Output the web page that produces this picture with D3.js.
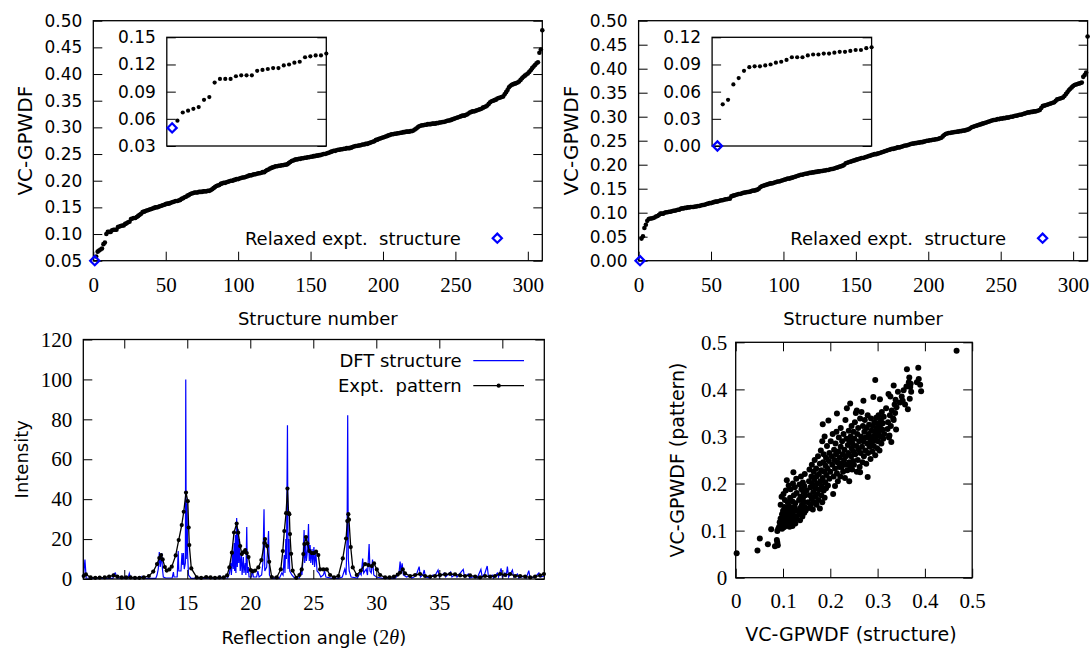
<!DOCTYPE html>
<html>
<head>
<meta charset="utf-8">
<script src="https://cdn.jsdelivr.net/npm/d3@7"></script>
<style>
  body { margin: 0; background: #fff; }
</style>
</head>
<body>
<svg id="fig" width="1091" height="648"></svg>
<script>
// ---- dades ----
// estructura 1 = estructura experimental relaxada (diamant blau)
const relaxedPattern = 0.05;
const relaxedStructure = 0.0;

// VC-GPWDF (patró), ordenat, estructures 2..310
const patternSorted = [
  0.058, 0.067, 0.069, 0.071, 0.073, 0.081, 0.084, 0.100, 0.104,
  0.104, 0.104, 0.107, 0.108, 0.108, 0.108, 0.113, 0.114, 0.115, 0.116,
  0.116, 0.119, 0.120, 0.122, 0.123, 0.128, 0.129, 0.130, 0.130, 0.132,
  0.134, 0.136, 0.138, 0.141, 0.142, 0.143, 0.144, 0.145, 0.146, 0.147,
  0.148, 0.149, 0.150, 0.150, 0.151, 0.152, 0.153, 0.154, 0.155, 0.156,
  0.157, 0.157, 0.158, 0.159, 0.160, 0.161, 0.162, 0.162, 0.163, 0.164,
  0.166, 0.167, 0.169, 0.170, 0.172, 0.173, 0.175, 0.176, 0.177, 0.178,
  0.178, 0.178, 0.179, 0.179, 0.179, 0.180, 0.180, 0.180, 0.181, 0.181,
  0.182, 0.184, 0.186, 0.188, 0.190, 0.191, 0.192, 0.194, 0.195, 0.196,
  0.196, 0.197, 0.198, 0.199, 0.200, 0.200, 0.201, 0.202, 0.203, 0.203,
  0.204, 0.205, 0.206, 0.206, 0.207, 0.208, 0.209, 0.210, 0.210, 0.211,
  0.212, 0.212, 0.213, 0.214, 0.214, 0.215, 0.216, 0.216, 0.218, 0.220,
  0.221, 0.223, 0.224, 0.225, 0.226, 0.227, 0.227, 0.228, 0.228, 0.229,
  0.229, 0.230, 0.230, 0.231, 0.233, 0.235, 0.237, 0.238, 0.239, 0.240,
  0.240, 0.241, 0.241, 0.242, 0.242, 0.243, 0.243, 0.244, 0.244, 0.245,
  0.245, 0.246, 0.246, 0.247, 0.247, 0.248, 0.248, 0.249, 0.250, 0.250,
  0.251, 0.252, 0.253, 0.254, 0.255, 0.256, 0.256, 0.257, 0.258, 0.258,
  0.259, 0.259, 0.260, 0.260, 0.261, 0.261, 0.261, 0.262, 0.263, 0.264,
  0.265, 0.265, 0.266, 0.266, 0.267, 0.268, 0.268, 0.269, 0.269, 0.270,
  0.271, 0.272, 0.273, 0.274, 0.276, 0.277, 0.278, 0.279, 0.280, 0.281,
  0.282, 0.283, 0.284, 0.285, 0.286, 0.287, 0.287, 0.288, 0.288, 0.289,
  0.289, 0.290, 0.290, 0.291, 0.291, 0.292, 0.292, 0.292, 0.293, 0.293,
  0.294, 0.296, 0.298, 0.300, 0.302, 0.303, 0.304, 0.304, 0.305, 0.305,
  0.306, 0.306, 0.306, 0.307, 0.307, 0.307, 0.308, 0.308, 0.309, 0.309,
  0.310, 0.310, 0.311, 0.312, 0.313, 0.313, 0.314, 0.315, 0.316, 0.317,
  0.318, 0.319, 0.320, 0.321, 0.322, 0.322, 0.323, 0.324, 0.326, 0.328,
  0.329, 0.330, 0.330, 0.331, 0.332, 0.333, 0.334, 0.335, 0.337, 0.338,
  0.339, 0.341, 0.344, 0.347, 0.349, 0.350, 0.351, 0.352, 0.354, 0.355,
  0.356, 0.357, 0.358, 0.362, 0.366, 0.370, 0.375, 0.378, 0.380, 0.381,
  0.382, 0.383, 0.384, 0.386, 0.389, 0.392, 0.395, 0.397, 0.399, 0.401,
  0.404, 0.407, 0.411, 0.414, 0.417, 0.420, 0.422, 0.440, 0.446, 0.482
];

// VC-GPWDF (estructura), ordenat, estructures 2..310
const structureSorted = [
  0.046, 0.051, 0.068, 0.075, 0.083, 0.087, 0.088, 0.088, 0.089,
  0.090, 0.092, 0.093, 0.095, 0.098, 0.098, 0.098, 0.100, 0.101, 0.101,
  0.102, 0.102, 0.103, 0.104, 0.104, 0.105, 0.106, 0.106, 0.108, 0.109,
  0.109, 0.110, 0.110, 0.111, 0.111, 0.112, 0.112, 0.112, 0.113, 0.113,
  0.114, 0.114, 0.115, 0.116, 0.116, 0.117, 0.118, 0.119, 0.120, 0.120,
  0.121, 0.122, 0.123, 0.123, 0.124, 0.125, 0.126, 0.126, 0.127, 0.128,
  0.128, 0.129, 0.129, 0.134, 0.135, 0.136, 0.137, 0.138, 0.139, 0.139,
  0.140, 0.141, 0.142, 0.142, 0.143, 0.143, 0.144, 0.145, 0.146, 0.146,
  0.147, 0.148, 0.150, 0.153, 0.155, 0.156, 0.157, 0.158, 0.159, 0.160,
  0.161, 0.161, 0.162, 0.163, 0.164, 0.165, 0.165, 0.166, 0.167, 0.168,
  0.169, 0.170, 0.171, 0.171, 0.172, 0.173, 0.174, 0.175, 0.176, 0.177,
  0.178, 0.179, 0.179, 0.180, 0.181, 0.181, 0.182, 0.183, 0.183, 0.184,
  0.184, 0.185, 0.185, 0.186, 0.186, 0.187, 0.187, 0.188, 0.188, 0.189,
  0.189, 0.190, 0.191, 0.191, 0.192, 0.193, 0.194, 0.195, 0.196, 0.197,
  0.198, 0.200, 0.203, 0.204, 0.205, 0.206, 0.207, 0.208, 0.209, 0.210,
  0.211, 0.212, 0.213, 0.214, 0.214, 0.215, 0.216, 0.217, 0.218, 0.219,
  0.220, 0.221, 0.222, 0.222, 0.223, 0.224, 0.225, 0.226, 0.227, 0.228,
  0.229, 0.230, 0.231, 0.232, 0.233, 0.233, 0.234, 0.235, 0.236, 0.236,
  0.237, 0.238, 0.239, 0.240, 0.240, 0.241, 0.242, 0.243, 0.244, 0.244,
  0.245, 0.245, 0.246, 0.246, 0.247, 0.247, 0.248, 0.249, 0.250, 0.250,
  0.251, 0.251, 0.252, 0.252, 0.253, 0.253, 0.254, 0.255, 0.256, 0.259,
  0.262, 0.264, 0.265, 0.266, 0.266, 0.267, 0.267, 0.268, 0.268, 0.269,
  0.269, 0.270, 0.270, 0.271, 0.271, 0.272, 0.273, 0.274, 0.276, 0.278,
  0.279, 0.280, 0.281, 0.282, 0.283, 0.284, 0.285, 0.286, 0.287, 0.288,
  0.289, 0.290, 0.291, 0.292, 0.293, 0.293, 0.294, 0.295, 0.295, 0.296,
  0.296, 0.297, 0.297, 0.298, 0.298, 0.299, 0.300, 0.300, 0.301, 0.302,
  0.302, 0.303, 0.304, 0.304, 0.305, 0.306, 0.307, 0.308, 0.309, 0.309,
  0.310, 0.310, 0.311, 0.311, 0.312, 0.313, 0.314, 0.318, 0.322, 0.323,
  0.324, 0.325, 0.326, 0.327, 0.328, 0.329, 0.330, 0.333, 0.336, 0.337,
  0.338, 0.339, 0.340, 0.343, 0.347, 0.351, 0.355, 0.358, 0.361, 0.364,
  0.366, 0.367, 0.368, 0.369, 0.370, 0.371, 0.383, 0.387, 0.392, 0.467
];

// dispersió: [estructura, patró]
const scatterPts = [
  [0.002,0.052],[0.046,0.058],[0.051,0.083],[0.068,0.071],[0.075,0.103],[0.083,0.067],[0.087,0.080],[0.089,0.069],[0.088,0.099],[0.088,0.075],[0.090,0.104],
  [0.092,0.108],[0.093,0.118],[0.095,0.126],[0.095,0.155],[0.097,0.172],[0.098,0.104],[0.098,0.135],[0.100,0.112],[0.100,0.142],[0.101,0.122],
  [0.101,0.178],[0.102,0.107],[0.102,0.130],[0.103,0.150],[0.104,0.115],[0.104,0.165],[0.105,0.124],[0.105,0.138],[0.106,0.110],[0.106,0.185],
  [0.108,0.207],[0.108,0.128],[0.109,0.118],[0.109,0.146],[0.110,0.160],[0.111,0.133],[0.111,0.113],[0.112,0.196],[0.112,0.122],[0.113,0.152],
  [0.114,0.140],[0.114,0.108],[0.115,0.170],[0.116,0.126],[0.116,0.188],[0.117,0.117],[0.118,0.145],[0.119,0.132],[0.120,0.162],[0.120,0.110],
  [0.121,0.200],[0.121,0.138],[0.122,0.224],[0.123,0.120],[0.123,0.175],[0.124,0.150],[0.125,0.130],[0.125,0.192],[0.126,0.115],[0.126,0.158],
  [0.128,0.142],[0.128,0.210],[0.129,0.125],[0.129,0.180],[0.134,0.165],[0.134,0.135],[0.135,0.198],[0.136,0.148],[0.136,0.122],[0.137,0.172],
  [0.138,0.215],[0.139,0.140],[0.139,0.188],[0.140,0.155],[0.141,0.130],[0.142,0.202],[0.142,0.168],[0.143,0.145],[0.143,0.182],[0.144,0.160],
  [0.145,0.138],[0.145,0.195],[0.146,0.220],[0.146,0.150],[0.147,0.175],[0.148,0.143],
  [0.150,0.185],[0.153,0.160],[0.155,0.205],[0.155,0.148],[0.156,0.230],[0.157,0.175],[0.158,0.192],[0.159,0.155],[0.160,0.215],[0.161,0.168],
  [0.161,0.240],[0.162,0.198],[0.163,0.145],[0.164,0.182],[0.165,0.225],[0.165,0.160],[0.166,0.208],[0.167,0.250],[0.168,0.172],[0.169,0.190],
  [0.170,0.232],[0.171,0.155],[0.171,0.215],[0.172,0.200],[0.173,0.178],[0.174,0.258],[0.175,0.165],[0.176,0.220],[0.177,0.188],[0.178,0.242],
  [0.178,0.147],[0.179,0.205],[0.180,0.270],[0.181,0.175],[0.181,0.228],[0.182,0.195],[0.183,0.290],[0.183,0.160],[0.184,0.326],[0.184,0.212],
  [0.185,0.245],[0.186,0.185],[0.186,0.262],[0.187,0.225],[0.188,0.170],[0.188,0.300],[0.189,0.203],[0.190,0.238],[0.191,0.255],[0.191,0.190],
  [0.192,0.218],[0.193,0.280],[0.194,0.232],[0.195,0.196],[0.196,0.334],[0.197,0.248],[0.198,0.265],[0.198,0.210],
  [0.200,0.225],[0.201,0.290],[0.203,0.258],[0.204,0.240],[0.205,0.305],[0.206,0.178],[0.207,0.215],[0.208,0.272],[0.209,0.250],[0.210,0.232],
  [0.210,0.195],[0.211,0.285],[0.212,0.262],[0.213,0.310],[0.214,0.349],[0.214,0.222],[0.215,0.245],[0.216,0.205],[0.217,0.268],[0.218,0.298],
  [0.219,0.235],[0.220,0.255],[0.221,0.215],[0.222,0.318],[0.222,0.278],[0.223,0.242],[0.224,0.235],[0.225,0.290],[0.226,0.262],[0.227,0.225],
  [0.228,0.305],[0.229,0.250],[0.230,0.272],[0.231,0.212],[0.232,0.335],[0.233,0.258],[0.233,0.240],[0.234,0.295],[0.235,0.360],[0.236,0.228],
  [0.237,0.282],[0.238,0.265],[0.239,0.312],[0.240,0.245],[0.240,0.205],[0.241,0.290],[0.242,0.370],[0.242,0.235],[0.243,0.300],[0.244,0.258],
  [0.245,0.275],[0.245,0.322],[0.246,0.230],[0.247,0.285],[0.248,0.248],[0.249,0.310],[0.249,0.268],
  [0.250,0.240],[0.251,0.295],[0.252,0.330],[0.253,0.262],[0.254,0.350],[0.255,0.280],[0.256,0.355],[0.256,0.225],[0.257,0.305],[0.258,0.250],
  [0.259,0.318],[0.260,0.272],[0.261,0.290],[0.262,0.235],[0.263,0.224],[0.263,0.338],[0.264,0.265],[0.265,0.300],[0.266,0.352],[0.267,0.278],
  [0.268,0.245],[0.269,0.322],[0.270,0.376],[0.270,0.290],[0.271,0.258],[0.272,0.310],[0.273,0.335],[0.274,0.270],[0.275,0.298],[0.276,0.242],
  [0.277,0.318],[0.278,0.285],[0.279,0.214],[0.279,0.345],[0.280,0.265],[0.281,0.305],[0.282,0.325],[0.283,0.278],[0.284,0.295],[0.285,0.252],
  [0.286,0.338],[0.287,0.312],[0.288,0.288],[0.289,0.268],[0.290,0.322],[0.291,0.384],[0.291,0.300],[0.292,0.280],[0.293,0.330],[0.294,0.310],
  [0.295,0.420],[0.295,0.260],[0.296,0.292],[0.297,0.340],[0.298,0.318],[0.299,0.275],[0.299,0.302],
  [0.300,0.328],[0.301,0.290],[0.302,0.345],[0.303,0.310],[0.304,0.270],[0.305,0.379],[0.305,0.320],[0.306,0.300],[0.307,0.335],[0.308,0.285],
  [0.309,0.352],[0.310,0.315],[0.311,0.328],[0.312,0.295],[0.313,0.342],[0.314,0.305],[0.318,0.360],[0.321,0.316],[0.322,0.330],[0.323,0.390],
  [0.324,0.298],[0.325,0.302],[0.326,0.345],[0.327,0.385],[0.328,0.322],[0.329,0.288],[0.330,0.355],[0.333,0.338],[0.334,0.408],[0.334,0.335],
  [0.336,0.368],[0.337,0.350],[0.338,0.378],[0.339,0.315],[0.340,0.362],
  [0.343,0.395],[0.347,0.372],[0.351,0.385],[0.353,0.376],[0.355,0.398],[0.358,0.368],[0.361,0.406],[0.362,0.443],[0.364,0.358],[0.366,0.415],
  [0.367,0.425],[0.368,0.380],[0.369,0.405],[0.370,0.412],[0.371,0.395],[0.383,0.415],[0.386,0.446],[0.387,0.422],[0.390,0.410],[0.392,0.396],
  [0.467,0.482]
];

// difracció: [2theta, intensitat]
const dftPattern = [
  [6.76,0.5],[6.88,9.8],[6.98,0.5],[7.5,0.3],[8.5,0.3],[9.1,0.3],[9.2,2.8],[9.3,3],[9.4,0.5],[9.8,0.3],[10.3,0.3],[10.4,2.8],[10.5,0.5],
  [11.3,0.3],[11.4,1.2],[11.5,0.3],[12.5,0.3],[12.6,2],[12.7,5],[12.78,13.5],[12.85,6],[12.9,8],[12.97,13],[13.03,5],[13.1,1],[13.3,0.5],
  [13.8,0.5],[13.9,3.5],[13.95,1],[14.2,1],[14.28,14],[14.33,4],[14.5,4],[14.58,13],[14.64,7],[14.7,13],[14.76,5],[14.85,8],[14.88,100],
  [14.92,10],[14.98,38],[15.03,12],[15.1,2],[15.3,0.3],[16,0.3],[16.7,0.3],[16.8,1],[16.9,0.3],[17.5,0.3],[17.6,1.5],[17.7,0.3],[18.2,0.5],
  [18.35,3],[18.45,8],[18.5,2],[18.6,13],[18.65,5],[18.72,18],[18.76,4],[18.82,22],[18.86,3],[18.92,30.5],[18.97,6],[19.03,25],[19.08,8],
  [19.14,20],[19.2,4],[19.3,12],[19.35,2],[19.45,11],[19.5,3],[19.6,8],[19.65,2],[19.72,26],[19.77,3],[19.85,6],[19.9,1],[20.1,1],[20.15,5],
  [20.25,1],[20.5,1],[20.6,4],[20.7,1],[20.9,2],[21.0,8],[21.09,35],[21.15,4],[21.3,6],[21.45,24],[21.52,2],[21.7,0.3],[22.3,0.3],[22.5,3],
  [22.6,2],[22.7,12],[22.75,3],[22.82,20],[22.87,10],[22.95,77],[23.0,5],[23.08,20],[23.13,4],[23.3,2],[23.5,0.5],[23.9,0.5],[24.0,4],
  [24.1,2],[24.2,12],[24.27,24.5],[24.32,8],[24.4,18],[24.45,9],[24.55,15],[24.62,27.5],[24.68,9],[24.75,17],[24.8,8],[24.9,15],[24.95,7],
  [25.05,16],[25.1,6],[25.2,13],[25.3,4],[25.45,3],[25.6,1],[25.8,2],[25.9,4],[26.0,1],[26.5,0.3],[27.0,0.3],[27.3,1],[27.5,5],[27.6,2],
  [27.68,20],[27.73,82],[27.78,10],[27.85,4],[28.0,1],[28.5,0.5],[28.7,3],[28.8,2],[28.92,10.3],[29.0,3],[29.2,5],[29.3,2],[29.43,17.5],
  [29.5,4],[29.6,3],[29.7,9.7],[29.8,2],[30.0,1],[30.5,0.3],[31.5,0.3],[31.8,3],[31.89,8.7],[31.95,4],[32.05,7.8],[32.15,2],[32.4,1],
  [32.6,1.5],[32.8,0.5],[33.0,1],[33.2,2.5],[33.4,6.2],[33.5,1],[33.7,2],[33.8,4.5],[33.9,1],[34.3,0.5],[34.5,2],[34.6,1],[34.9,4.5],
  [35.0,1],[35.4,3],[35.5,1],[35.9,3.5],[36.0,1],[36.3,2.5],[36.4,1],[36.9,4.8],[37.0,1],[37.3,2.5],[37.4,0.5],[37.9,1.5],[38.0,0.5],
  [38.3,4.8],[38.4,1],[38.6,2.5],[38.8,6.5],[38.9,1],[39.2,2],[39.3,0.5],[39.6,3],[39.7,1],[39.9,5.3],[40.0,1],[40.2,3],[40.3,1],[40.4,6.2],
  [40.5,1],[40.8,4.5],[40.9,1],[41.2,2.5],[41.3,0.5],[41.8,1.5],[41.9,0.5],[42.1,4.2],[42.2,0.5],[42.6,1],[42.9,3],[43.0,1],[43.35,1.5]
];

const exptPattern = [
  [6.78,1.5],[6.96,2.3],[7.33,0.8],[7.70,0.6],[8.05,0.7],[8.45,0.8],[8.80,1.2],[9.15,1.8],[9.45,1.2],[9.80,0.8],[10.15,0.8],[10.50,0.8],
  [10.85,0.6],[11.20,0.6],[11.55,0.8],[11.95,1.5],[12.30,3.7],[12.60,7.5],[12.78,10.5],[12.92,12],[13.05,9.8],[13.22,6],[13.37,4.2],
  [13.58,4.8],[13.77,6.2],[14.08,11.8],[14.32,19.5],[14.56,27],[14.72,33.7],[14.90,43.3],[15.04,39],[15.11,25.8],[15.16,17],[15.32,5.3],
  [15.75,0.8],[16.10,0.6],[16.50,1],[16.85,0.8],[17.20,0.6],[17.55,0.8],[17.90,0.8],[18.16,1.8],[18.34,5.8],[18.54,13.2],[18.71,23.3],
  [18.92,27.8],[19.04,23.2],[19.20,16.5],[19.33,12.5],[19.48,13.5],[19.60,14.5],[19.72,13],[19.86,11],[20.03,4.5],[20.20,3.8],[20.38,4.2],
  [20.64,5.8],[20.88,9.5],[21.12,18],[21.17,20],[21.33,16.5],[21.50,8.6],[21.70,1],[22.10,0.8],[22.42,4.8],[22.58,14],[22.70,24],[22.84,33],
  [22.95,45.3],[23.04,33],[23.10,32.5],[23.15,22.5],[23.24,12.6],[23.36,4.2],[23.65,0.6],[23.90,2],[24.08,4.8],[24.21,12.5],[24.29,17.5],
  [24.42,21],[24.53,17.8],[24.69,14],[24.88,13],[25.06,13],[25.22,13.7],[25.40,12],[25.54,4.8],[25.80,4.8],[26.07,4.8],[26.33,2],[26.65,0.8],
  [26.99,1.5],[27.34,10.3],[27.60,20.3],[27.70,29],[27.78,32.5],[27.83,29.7],[27.97,16],[28.13,5.8],[28.45,2],[28.77,4.2],[29.11,7.5],
  [29.37,7],[29.64,6.5],[29.82,7.8],[30.04,4.8],[30.30,2],[30.70,0.8],[31.05,0.8],[31.40,1.2],[31.70,2.2],[31.89,3.2],[32.10,4.8],[32.28,2.8],
  [32.68,1.5],[33.08,2],[33.47,2.5],[33.87,1.5],[34.27,1.2],[34.66,1.5],[35.06,2],[35.46,2.3],[35.86,2.5],[36.25,2.3],[36.65,1.8],[37.04,1.5],
  [37.44,1.8],[37.84,1.2],[38.23,0.8],[38.63,1.5],[39.03,1.2],[39.42,1.5],[39.82,2.5],[40.22,2],[40.62,2.5],[41.01,1.5],[41.41,1.5],
  [41.81,1.2],[42.21,0.8],[42.60,1.2],[43.00,1.8],[43.30,2.5]
];

// ticks i etiquetes
const rankTicks = [0, 50, 100, 150, 200, 250, 300];
const rankLabels = ["0", "50", "100", "150", "200", "250", "300"];
const patternTicks = [0.05, 0.10, 0.15, 0.20, 0.25, 0.30, 0.35, 0.40, 0.45, 0.50];
const patternLabels = ["0.05", "0.10", "0.15", "0.20", "0.25", "0.30", "0.35", "0.40", "0.45", "0.50"];
const structureTicks = [0, 0.05, 0.10, 0.15, 0.20, 0.25, 0.30, 0.35, 0.40, 0.45, 0.50];
const structureLabels = ["0.00", "0.05", "0.10", "0.15", "0.20", "0.25", "0.30", "0.35", "0.40", "0.45", "0.50"];
const insetPatternTicks = [0.03, 0.06, 0.09, 0.12, 0.15];
const insetPatternLabels = ["0.03", "0.06", "0.09", "0.12", "0.15"];
const insetStructureTicks = [0, 0.03, 0.06, 0.09, 0.12];
const insetStructureLabels = ["0.00", "0.03", "0.06", "0.09", "0.12"];
const angleTicks = [10, 15, 20, 25, 30, 35, 40];
const angleLabels = ["10", "15", "20", "25", "30", "35", "40"];
const intensityTicks = [0, 20, 40, 60, 80, 100, 120];
const intensityLabels = ["0", "20", "40", "60", "80", "100", "120"];
const gpTicks = [0, 0.1, 0.2, 0.3, 0.4, 0.5];
const gpLabels = ["0", "0.1", "0.2", "0.3", "0.4", "0.5"];

// ---- dibuix ----
const SANS = "DejaVu Sans";
const SERIF = "Liberation Serif";
const BLUE = "#0000ff";
const svg = d3.select("#fig");

function styleAxis(g, font, size) {
    g.attr("font-family", font).attr("font-size", size);
    g.selectAll(".domain").remove();
    g.selectAll(".tick line").attr("stroke", "#000").attr("stroke-width", 1);
    g.selectAll(".tick text").attr("fill", "#000");
}

// eixos amb ticks cap endins als quatre costats
function frameAxes(g, x, y, w, h, o) {
    g.append("g")
        .call(d3.axisLeft(y).tickValues(o.yTicks).tickFormat((d, i) => o.yLabels[i])
            .tickSize(-9).tickPadding(o.yPad))
        .call(a => styleAxis(a, o.yFont, o.yFontSize));
    g.append("g")
        .attr("transform", `translate(${w},0)`)
        .call(d3.axisRight(y).tickValues(o.yTicks).tickFormat("").tickSize(-9))
        .call(a => styleAxis(a, o.yFont, o.yFontSize));
    if (o.xTicks) {
        g.append("g")
            .attr("transform", `translate(0,${h})`)
            .call(d3.axisBottom(x).tickValues(o.xTicks).tickFormat((d, i) => o.xLabels[i])
                .tickSize(-9).tickPadding(o.xPad))
            .call(a => styleAxis(a, o.xFont, o.xFontSize));
        if (o.topTicks) {
            g.append("g")
                .call(d3.axisTop(x).tickValues(o.xTicks).tickFormat("").tickSize(-9))
                .call(a => styleAxis(a, o.xFont, o.xFontSize));
        }
    }
    g.append("rect")
        .attr("width", w).attr("height", h)
        .attr("fill", "none").attr("stroke", "#000").attr("stroke-width", 1.3);
}

function diamond(g, cx, cy) {
    const s = 4.6;
    g.append("path")
        .attr("d", `M${cx},${cy - s}L${cx + s},${cy}L${cx},${cy + s}L${cx - s},${cy}Z`)
        .attr("fill", "none").attr("stroke", BLUE).attr("stroke-width", 2.2);
}

// panells superiors: valor ordenat vs número d'estructura
function rankPanel(o) {
    const w = 449, h = 240;
    const g = svg.append("g").attr("transform", `translate(${o.left},${o.top})`);
    const x = d3.scaleLinear().domain([0, 310]).range([0, w]);
    const y = d3.scaleLinear().domain(o.yDomain).range([h, 0]);

    frameAxes(g, x, y, w, h, {
        yTicks: o.yTicks, yLabels: o.yLabels, yFont: SANS, yFontSize: 17, yPad: 11,
        xTicks: rankTicks, xLabels: rankLabels, xFont: SERIF, xFontSize: 21, xPad: 16.5,
        topTicks: false
    });

    g.selectAll("circle.pt")
        .data(o.values)
        .join("circle")
            .attr("class", "pt")
            .attr("cx", (d, i) => x(i + 2))
            .attr("cy", d => y(d))
            .attr("r", 2.3)
            .attr("fill", "#000");
    diamond(g, x(1), y(o.relaxed));

    // llegenda
    g.append("text")
        .attr("x", 367.5).attr("y", 217.5).attr("dy", "0.36em")
        .attr("text-anchor", "end")
        .attr("font-family", SANS).attr("font-size", 18)
        .style("white-space", "pre")
        .text("Relaxed expt.  structure");
    diamond(g, 404, 217.5);

    // inset: primeres 30 estructures
    const iw = 159.5, ih = 108.7;
    const ig = g.append("g").attr("transform", "translate(73.5,16.6)");
    const ix = d3.scaleLinear().domain([0, 30]).range([0, iw]);
    const iy = d3.scaleLinear().domain(o.insetDomain).range([ih, 0]);
    ig.append("rect").attr("width", iw).attr("height", ih).attr("fill", "#fff");
    frameAxes(ig, ix, iy, iw, ih, {
        yTicks: o.insetTicks, yLabels: o.insetLabels, yFont: SANS, yFontSize: 17, yPad: 11
    });
    ig.selectAll("circle.pt")
        .data(o.values.slice(0, 29))
        .join("circle")
            .attr("class", "pt")
            .attr("cx", (d, i) => ix(i + 2))
            .attr("cy", d => iy(d))
            .attr("r", 2.1)
            .attr("fill", "#000");
    diamond(ig, ix(1), iy(o.relaxed));

    // títols dels eixos
    svg.append("text")
        .attr("transform", `translate(${o.left - 61},${o.top + h / 2}) rotate(-90)`)
        .attr("text-anchor", "middle")
        .attr("font-family", SANS).attr("font-size", 20)
        .text("VC-GPWDF");
    svg.append("text")
        .attr("x", o.left + w / 2).attr("y", 325)
        .attr("text-anchor", "middle")
        .attr("font-family", SANS).attr("font-size", 18)
        .text("Structure number");
}

rankPanel({
    left: 93.3, top: 20.7, values: patternSorted, relaxed: relaxedPattern,
    yDomain: [0.05, 0.5], yTicks: patternTicks, yLabels: patternLabels,
    insetDomain: [0.03, 0.15], insetTicks: insetPatternTicks, insetLabels: insetPatternLabels
});
rankPanel({
    left: 638.6, top: 20.7, values: structureSorted, relaxed: relaxedStructure,
    yDomain: [0, 0.5], yTicks: structureTicks, yLabels: structureLabels,
    insetDomain: [0, 0.12], insetTicks: insetStructureTicks, insetLabels: insetStructureLabels
});

// panell inferior esquerre: patrons de difracció
(function() {
    const left = 83.3, top = 339.5, w = 461, h = 239.5;
    const g = svg.append("g").attr("transform", `translate(${left},${top})`);
    const x = d3.scaleLinear().domain([6.75, 43.33]).range([0, w]);
    const y = d3.scaleLinear().domain([0, 120]).range([h, 0]);

    const line = d3.line().x(d => x(d[0])).y(d => y(d[1]));
    g.append("path").datum(dftPattern)
        .attr("d", line).attr("fill", "none")
        .attr("stroke", BLUE).attr("stroke-width", 1.2);
    g.append("path").datum(exptPattern)
        .attr("d", line).attr("fill", "none")
        .attr("stroke", "#000").attr("stroke-width", 1.3);
    g.selectAll("circle.ex")
        .data(exptPattern)
        .join("circle")
            .attr("class", "ex")
            .attr("cx", d => x(d[0]))
            .attr("cy", d => y(d[1]))
            .attr("r", 2.1)
            .attr("fill", "#000");

    frameAxes(g, x, y, w, h, {
        yTicks: intensityTicks, yLabels: intensityLabels, yFont: SERIF, yFontSize: 21, yPad: 11,
        xTicks: angleTicks, xLabels: angleLabels, xFont: SERIF, xFontSize: 21, xPad: 16.5,
        topTicks: true
    });

    // llegenda
    const lg = g.append("g").attr("font-family", SANS).attr("font-size", 18);
    lg.append("text").attr("x", 378.4).attr("y", 21.2).attr("dy", "0.36em")
        .attr("text-anchor", "end").text("DFT structure");
    lg.append("line").attr("x1", 390).attr("x2", 440.7).attr("y1", 21.2).attr("y2", 21.2)
        .attr("stroke", BLUE).attr("stroke-width", 1.2);
    lg.append("text").attr("x", 378.4).attr("y", 46.2).attr("dy", "0.36em")
        .attr("text-anchor", "end").style("white-space", "pre").text("Expt.  pattern");
    lg.append("line").attr("x1", 390).attr("x2", 440.7).attr("y1", 46.2).attr("y2", 46.2)
        .attr("stroke", "#000").attr("stroke-width", 1.3);
    lg.append("circle").attr("cx", 415.4).attr("cy", 46.2).attr("r", 2.1).attr("fill", "#000");

    svg.append("text")
        .attr("transform", `translate(28,${top + h / 2}) rotate(-90)`)
        .attr("text-anchor", "middle")
        .attr("font-family", SANS).attr("font-size", 18)
        .text("Intensity");
    const t = svg.append("text")
        .attr("x", left + w / 2).attr("y", 644)
        .attr("text-anchor", "middle")
        .attr("font-family", SANS).attr("font-size", 18);
    t.append("tspan").text("Reflection angle (");
    t.append("tspan").attr("font-family", SERIF).attr("font-size", 20).text("2");
    t.append("tspan").attr("font-family", SERIF).attr("font-size", 20).attr("font-style", "italic").text("θ");
    t.append("tspan").text(")");
})();

// panell inferior dret: dispersió
(function() {
    const left = 735.7, top = 342.3, w = 236.5, h = 235.4;
    const g = svg.append("g").attr("transform", `translate(${left},${top})`);
    const x = d3.scaleLinear().domain([0, 0.5]).range([0, w]);
    const y = d3.scaleLinear().domain([0, 0.5]).range([h, 0]);

    frameAxes(g, x, y, w, h, {
        yTicks: gpTicks, yLabels: gpLabels, yFont: SERIF, yFontSize: 21, yPad: 8.5,
        xTicks: gpTicks, xLabels: gpLabels, xFont: SERIF, xFontSize: 21, xPad: 15.5,
        topTicks: true
    });

    g.selectAll("circle.sc")
        .data(scatterPts)
        .join("circle")
            .attr("class", "sc")
            .attr("cx", d => x(d[0]))
            .attr("cy", d => y(d[1]))
            .attr("r", 3)
            .attr("fill", "#000");

    svg.append("text")
        .attr("transform", `translate(684,${top + h / 2}) rotate(-90)`)
        .attr("text-anchor", "middle")
        .attr("font-family", SANS).attr("font-size", 19)
        .text("VC-GPWDF (pattern)");
    svg.append("text")
        .attr("x", 851).attr("y", 641)
        .attr("text-anchor", "middle")
        .attr("font-family", SANS).attr("font-size", 19)
        .text("VC-GPWDF (structure)");
})();
</script>
</body>
</html>
